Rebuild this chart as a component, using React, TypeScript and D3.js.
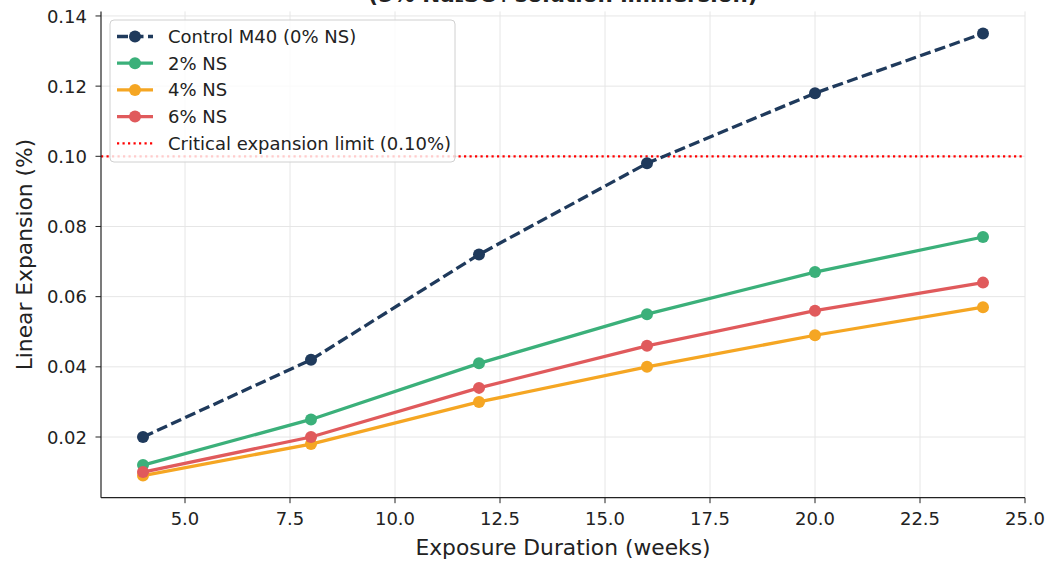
import React from "react";
import * as d3 from "d3";

const weeks = [4, 8, 12, 16, 20, 24];
const control = [0.020, 0.042, 0.072, 0.098, 0.118, 0.135];
const ns2 = [0.012, 0.025, 0.041, 0.055, 0.067, 0.077];
const ns4 = [0.009, 0.018, 0.030, 0.040, 0.049, 0.057];
const ns6 = [0.010, 0.020, 0.034, 0.046, 0.056, 0.064];
const xTicks = [5, 7.5, 10, 12.5, 15, 17.5, 20, 22.5, 25];
const yTicks = [0.02, 0.04, 0.06, 0.08, 0.10, 0.12, 0.14];
const limit = 0.10;

const seriesList = [
  { name: "Control M40 (0% NS)", values: control, color: "#1f3a5c", dashed: true },
  { name: "2% NS", values: ns2, color: "#3bb07a", dashed: false },
  { name: "4% NS", values: ns4, color: "#f5a623", dashed: false },
  { name: "6% NS", values: ns6, color: "#e05a5c", dashed: false },
];

export default function App() {
  const W = 1049, H = 563;
  const L = 101, R = 1025, T = 11.4, B = 497.7;
  const x = d3.scaleLinear().domain([3, 25]).range([L, R]);
  const y = d3.scaleLinear().domain([0.0027, 0.1413]).range([B, T]);
  const line = d3.line<[number, number]>().x(d => x(d[0])).y(d => y(d[1]));
  const font = "DejaVu Sans, sans-serif";
  const order = [1, 2, 3, 0];
  return (
    <svg width={W} height={H} style={{ position: "absolute", left: 0, top: 0, background: "#fff" }} fontFamily={font}>
      <rect width={W} height={H} fill="#fff" />
      <text x={563} y={2} textAnchor="middle" fontSize={21.5} fontWeight="bold" fill="#222">(5% Na₂SO₄ solution immersion)</text>
      {xTicks.map(t => (
        <line key={"gx" + t} x1={x(t)} x2={x(t)} y1={T} y2={B} stroke="#e6e6e6" strokeWidth={1} />
      ))}
      {yTicks.map(t => (
        <line key={"gy" + t} x1={L} x2={R} y1={y(t)} y2={y(t)} stroke="#e6e6e6" strokeWidth={1} />
      ))}
      <line x1={L} x2={R} y1={y(limit)} y2={y(limit)} stroke="#ff0000" strokeWidth={2.2} strokeDasharray="2.2,3.3" />
      {order.map(i => {
        const s = seriesList[i];
        const pts = weeks.map((w, j) => [w, s.values[j]] as [number, number]);
        return (
          <g key={s.name}>
            <path d={line(pts) || ""} fill="none" stroke={s.color} strokeWidth={3.3} strokeDasharray={s.dashed ? "11,4.5" : undefined} />
            {pts.map((p, j) => (
              <circle key={j} cx={x(p[0])} cy={y(p[1])} r={6} fill={s.color} />
            ))}
          </g>
        );
      })}
      <line x1={L} x2={L} y1={T} y2={B} stroke="#222" strokeWidth={1.2} />
      <line x1={L} x2={R} y1={B} y2={B} stroke="#222" strokeWidth={1.2} />
      {xTicks.map(t => (
        <g key={"xt" + t}>
          <line x1={x(t)} x2={x(t)} y1={B} y2={B + 5.5} stroke="#222" strokeWidth={1} />
          <text x={x(t)} y={525} textAnchor="middle" fontSize={18} fill="#222">{t.toFixed(1)}</text>
        </g>
      ))}
      {yTicks.map(t => (
        <g key={"yt" + t}>
          <line x1={L - 5.5} x2={L} y1={y(t)} y2={y(t)} stroke="#222" strokeWidth={1} />
          <text x={L - 14} y={y(t) + 6.6} textAnchor="end" fontSize={18} fill="#222">{t.toFixed(2)}</text>
        </g>
      ))}
      <text x={563} y={555} textAnchor="middle" fontSize={21.8} fill="#222">Exposure Duration (weeks)</text>
      <text transform={`translate(32,${(T + B) / 2}) rotate(-90)`} textAnchor="middle" fontSize={21.8} fill="#222">Linear Expansion (%)</text>
      <g>
        <rect x={110} y={20} width={345} height={142} rx={4} fill="#fff" fillOpacity={0.8} stroke="#d0d0d0" strokeWidth={1} />
        {seriesList.map((s, i) => {
          const cy = 36.5 + i * 26.7;
          return (
            <g key={"lg" + i}>
              <line x1={117} x2={153} y1={cy} y2={cy} stroke={s.color} strokeWidth={3.3} strokeDasharray={s.dashed ? "11,4.5" : undefined} />
              <circle cx={135} cy={cy} r={6} fill={s.color} />
              <text x={168} y={cy + 6.5} fontSize={18} fill="#222">{s.name}</text>
            </g>
          );
        })}
        <line x1={117} x2={153} y1={143.3} y2={143.3} stroke="#ff0000" strokeWidth={2.2} strokeDasharray="2.2,3.3" />
        <text x={168} y={149.8} fontSize={18} fill="#222">Critical expansion limit (0.10%)</text>
      </g>
    </svg>
  );
}
